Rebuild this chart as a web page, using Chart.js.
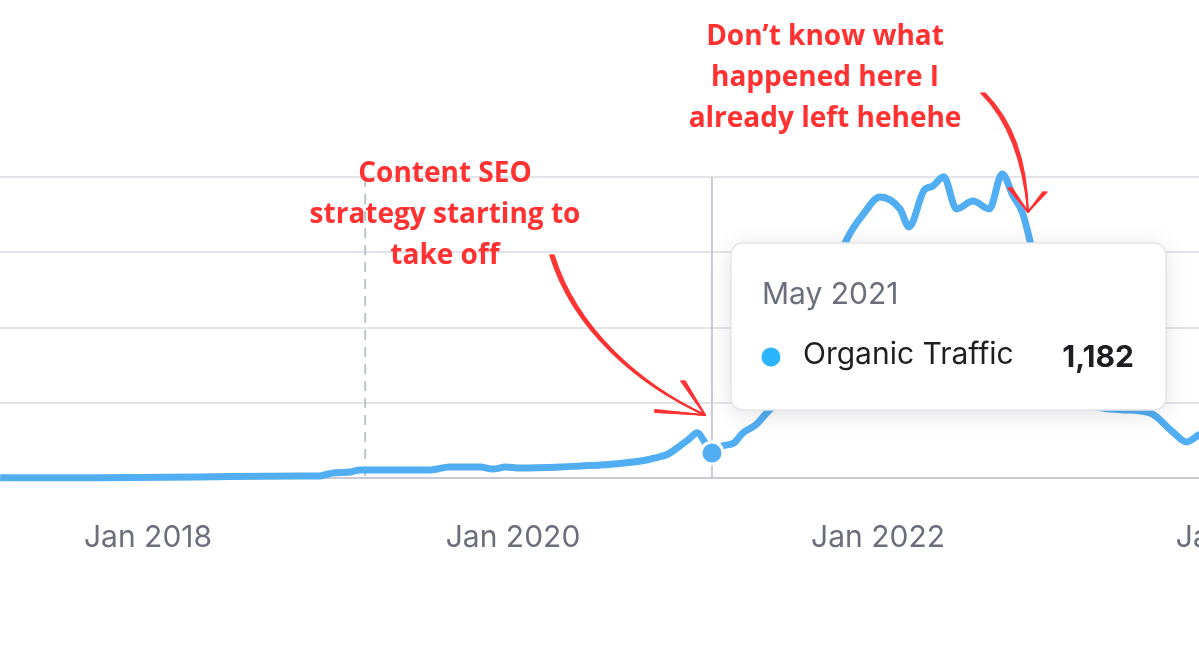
<!DOCTYPE html>
<html><head><meta charset="utf-8">
<script src="https://cdn.jsdelivr.net/npm/chart.js@4.4.0/dist/chart.umd.min.js"></script>
<style>html,body{margin:0;padding:0;overflow:hidden;background:#fff;width:1199px;height:669px}
#wrap{position:absolute;left:0;top:0;width:1400px;height:669px}</style>
</head><body><div id="wrap"><canvas id="c"></canvas></div>
<script>
const years = [2017.19,2017.74,2018.28,2018.83,2018.94,2019.01,2019.11,2019.16,2019.55,2019.65,2019.82,2019.89,2019.96,2020.04,2020.26,2020.37,2020.48,2020.61,2020.70,2020.78,2020.85,2020.90,2020.96,2021.01,2021.05,2021.09,2021.15,2021.21,2021.26,2021.33,2021.39,2021.49,2021.60,2021.71,2021.83,2021.92,2022.01,2022.12,2022.17,2022.25,2022.30,2022.36,2022.43,2022.52,2022.61,2022.68,2022.74,2022.79,2022.83,2022.92,2023.02,2023.17,2023.33,2023.49,2023.62,2023.69,2023.76,2023.93];
const traffic = [10,10,50,90,100,230,280,380,380,520,520,420,520,470,520,570,610,710,800,950,1130,1420,1800,2130,1700,1182,1510,1650,2130,2500,3070,3930,5580,8420,11260,12440,13240,12680,11830,13530,13760,14190,12680,13050,12680,14330,13290,12530,11260,7470,4640,3450,3220,3070,2130,1700,2030,2270];
const tickYears = [2018,2020,2022,2024];
const tickLabels = ["Jan 2018","Jan 2020","Jan 2022","Jan 2024"];
const hoverIndex = 25;
const hoverLabel = "May 2021";
const seriesName = "Organic Traffic";
const markerYear = 2019.19;
const note1 = ["Content SEO","strategy starting to","take off"];
const note2 = ["Don\u2019t know what","happened here I","already left hehehe"];

const FONT = "Inter, 'Open Sans', sans-serif";
const overlay = {
  id:'overlay',
  beforeDatasetsDraw(ch){
    const c=ch.ctx, xs=ch.scales.x, ys=ch.scales.y;
    const top=ys.getPixelForValue(14184), bot=ys.getPixelForValue(0);
    c.save();
    c.strokeStyle='#b9c6c6'; c.lineWidth=2; c.setLineDash([10,7]);
    const mx=xs.getPixelForValue(markerYear);
    c.beginPath(); c.moveTo(mx,top); c.lineTo(mx,bot); c.stroke();
    c.setLineDash([]); c.strokeStyle='#c9cad4';
    const hx=xs.getPixelForValue(years[hoverIndex]);
    c.beginPath(); c.moveTo(hx,top); c.lineTo(hx,bot); c.stroke();
    c.restore();
  },
  afterDatasetsDraw(ch){
    const c=ch.ctx, xs=ch.scales.x, ys=ch.scales.y;
    const px=xs.getPixelForValue(years[hoverIndex]), py=ys.getPixelForValue(traffic[hoverIndex]);
    c.save();
    c.fillStyle='#52aef2'; c.strokeStyle='#fff'; c.lineWidth=3;
    c.beginPath(); c.arc(px,py,11,0,Math.PI*2); c.fill(); c.stroke();
    const bx=px+19, by=py-210, bw=435, bh=167;
    c.shadowColor='rgba(0,0,0,0.12)'; c.shadowBlur=24; c.shadowOffsetY=4;
    c.fillStyle='#fff'; c.beginPath(); c.roundRect(bx,by,bw,bh,12); c.fill();
    c.shadowColor='transparent';
    c.strokeStyle='#e4e4ea'; c.lineWidth=1.5; c.stroke();
    c.textBaseline='middle'; c.textAlign='left';
    c.fillStyle='#6b6f7b'; c.font='30px '+FONT; c.fillText(hoverLabel,bx+31,by+52);
    c.fillStyle='#2bb4ff'; c.beginPath(); c.arc(bx+40,by+114,9.5,0,Math.PI*2); c.fill();
    c.fillStyle='#1d1d22'; c.fillText(seriesName,bx+72,by+112);
    c.font='bold 30px '+FONT; c.textAlign='right';
    c.fillText(traffic[hoverIndex].toLocaleString('en-US'),bx+403,by+115);
    c.fillStyle='#ff3131'; c.textAlign='center'; c.font='bold 28px "Open Sans", sans-serif';
    note1.forEach((t,i)=>c.fillText(t,445,174+i*41));
    note2.forEach((t,i)=>c.fillText(t,825,37+i*41));
    c.strokeStyle='#ff3131'; c.lineWidth=1.6; c.lineCap='round';
    for(let k=0;k<4;k++){
      const o=k*1.3-2;
      c.beginPath(); c.moveTo(552+o,255); c.bezierCurveTo(575+o,330,640+o,385,705,415); c.stroke();
      c.beginPath(); c.moveTo(655,411+o*0.6); c.lineTo(705,415); c.stroke();
      c.beginPath(); c.moveTo(683+o,381); c.lineTo(705,415); c.stroke();
      c.beginPath(); c.moveTo(983+o,93); c.bezierCurveTo(1010+o,120,1025+o,160,1028,212); c.stroke();
      c.beginPath(); c.moveTo(1010+o,188); c.lineTo(1028,212); c.stroke();
      c.beginPath(); c.moveTo(1045+o,192); c.lineTo(1028,212); c.stroke();
    }
    c.restore();
  }
};

new Chart(document.getElementById('c'),{
  type:'line',
  data:{datasets:[{label:seriesName,data:years.map((y,i)=>({x:y,y:traffic[i]})),
    borderColor:'#52aef2',borderWidth:7,pointRadius:0,tension:0.4,cubicInterpolationMode:'monotone',clip:false,fill:false}]},
  options:{responsive:true,maintainAspectRatio:false,animation:false,
    layout:{padding:{left:0,right:0,top:177,bottom:0}},
    plugins:{legend:{display:false},tooltip:{enabled:false}},
    scales:{
      x:{type:'linear',min:2017.189,max:2024.86,
        afterBuildTicks(s){s.ticks=tickYears.map(v=>({value:v}));},
        afterFit(s){s.height=191;},
        grid:{display:false},border:{display:false},
        ticks:{autoSkip:false,maxRotation:0,padding:34,color:'#6b6f7b',font:{family:FONT,size:30},
          callback:(v)=>tickLabels[tickYears.indexOf(v)]}},
      y:{display:true,min:0,max:14184,
        afterBuildTicks(s){s.ticks=[0,1,2,3,4].map(i=>({value:i*3546}));},
        afterFit(s){s.width=0;},
        ticks:{display:false},border:{display:false},
        grid:{color:(ctx)=>ctx.tick&&ctx.tick.value===0?'#c9cad4':'#e3e3ea',lineWidth:2,drawTicks:false}}
    }},
  plugins:[overlay]
});
</script></body></html>
